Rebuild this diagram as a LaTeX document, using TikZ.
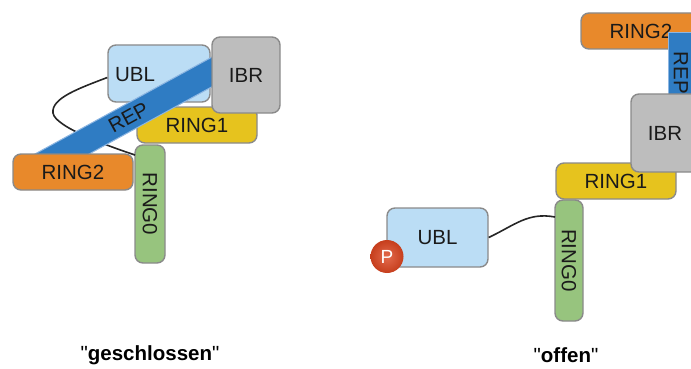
\documentclass[tikz,border=0pt]{standalone}
\usepackage{fontspec}
\setmainfont{Liberation Sans}[Ligatures=TeXOff]
\usetikzlibrary{calc}
\definecolor{bordergrey}{HTML}{8A8A8A}
\definecolor{txt}{HTML}{1A1A1A}
\definecolor{ublcol}{HTML}{BBDDF5}
\definecolor{ibrcol}{HTML}{BDBDBD}
\definecolor{ring1col}{HTML}{E6C31E}
\definecolor{ring2col}{HTML}{E8892B}
\definecolor{ring0col}{HTML}{97C47E}
\definecolor{repcol}{HTML}{2F7CC3}
\definecolor{repedge}{HTML}{8DB6E2}
\definecolor{pcol}{HTML}{DC4520}
\definecolor{linecol}{HTML}{262626}
\begin{document}
\begin{tikzpicture}[x=1pt,y=-1pt,
  box/.style={draw=bordergrey, line width=1.4pt, rounded corners=8pt, inner sep=0pt,
    font=\fontsize{20.5}{24}\selectfont, text=txt},
  repband/.style={fill=repcol, draw=repedge, line width=1pt, inner sep=0pt,
    font=\fontsize{20.5}{24}\selectfont, text=txt},
  conn/.style={draw=linecol, line width=1.6pt},
  caption/.style={font=\fontsize{20.5}{24}\selectfont, text=black, inner sep=0pt}]
\useasboundingbox (0,0) rectangle (691,369);
\clip (0,0) rectangle (691,369);

% ---------- left: "geschlossen" ----------
\node[box, fill=ublcol, minimum width=102pt, minimum height=57pt] (ublL) at (159,73.5) {};
\node[box, fill=ring1col, minimum width=120pt, minimum height=36pt] (ring1L) at (197,125) {RING1};
\node[box, fill=ring0col, minimum width=118pt, minimum height=30pt, rotate=-90] (ring0L) at (150,204) {RING0};
\draw[conn] ($(ublL.west)+(0,4)$) .. controls (80,88) and (51,98) .. (53,113)
  .. controls (55,127) and (108,146) .. ($(ring0L.center)+(-15,-49)$);
\node[font=\fontsize{20.5}{24}\selectfont, text=txt, inner sep=0pt] (ubltxtL) at (135,75) {UBL};
\node[repband, minimum width=222pt, minimum height=26pt, rotate=28.7] (repL) at (128.5,117.6) {REP};
\node[box, fill=ring2col, minimum width=120pt, minimum height=36pt] (ring2L) at (73,172) {RING2};
\node[box, fill=ibrcol, minimum width=68pt, minimum height=76pt] (ibrL) at (246,75) {IBR};

% ---------- right: "offen" ----------
\node[box, fill=ring2col, minimum width=120pt, minimum height=36pt] (ring2R) at (641,31) {RING2};
\node[repband, minimum width=80pt, minimum height=26pt, rotate=-90] (repR) at (681,73) {REP};
\node[box, fill=ring1col, minimum width=120pt, minimum height=36pt] (ring1R) at (616,181) {RING1};
\node[box, fill=ibrcol, minimum width=68pt, minimum height=78pt] (ibrR) at (665,133) {IBR};
\node[box, fill=ring0col, minimum width=121pt, minimum height=28pt, rotate=-90] (ring0R) at (569,260.5) {RING0};
\node[box, fill=ublcol, minimum width=101pt, minimum height=59pt] (ublR) at (437.5,237.5) {UBL};
\draw[conn] (ublR.east) .. controls (515,225) and (528,212) .. ($(ring0R.center)+(-14,-43.5)$);
\node[circle, minimum size=33pt, inner sep=0pt, inner color=pcol!80!white, outer color=pcol!90!black,
  text=white, font=\fontsize{19}{20}\selectfont] (pR) at (387,256.5) {P};

% ---------- captions ----------
\node[caption] (capL) at (150,355) {"\textbf{geschlossen}"};
\node[caption] (capR) at (566,355) {"\textbf{offen}"};
\end{tikzpicture}
\end{document}
